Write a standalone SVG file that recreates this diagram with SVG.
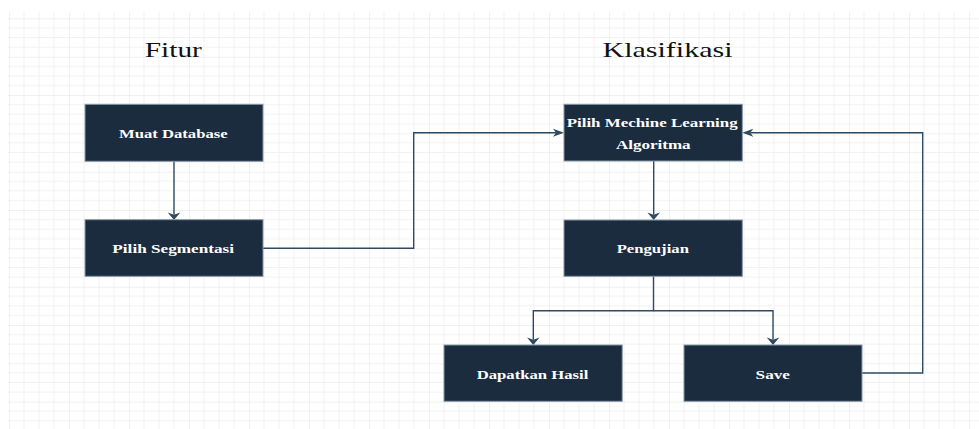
<svg xmlns="http://www.w3.org/2000/svg" width="979" height="429" viewBox="0 0 979 429">
  <style>
    .node rect { fill: #1b2c3e; stroke: #8797a6; stroke-width: 1; }
    .node text { fill: #ffffff; font-family: "Liberation Serif", "DejaVu Serif", serif; font-size: 12px; font-weight: bold; text-anchor: middle; }
    .title { fill: #111111; font-family: "Liberation Serif", "DejaVu Serif", serif; font-size: 21px; text-anchor: middle; }
    .edge { fill: none; stroke: #2f4b64; stroke-width: 1.4; }
  </style>
  <defs>
    <pattern id="grid" patternUnits="userSpaceOnUse" x="9" y="18.37" width="60" height="38.33">
      <g stroke="#f2f2f2" stroke-width="1">
        <line x1="15" y1="0" x2="15" y2="38.33"/>
        <line x1="30" y1="0" x2="30" y2="38.33"/>
        <line x1="45" y1="0" x2="45" y2="38.33"/>
        <line x1="0" y1="9.58" x2="60" y2="9.58"/>
        <line x1="0" y1="19.17" x2="60" y2="19.17"/>
        <line x1="0" y1="28.75" x2="60" y2="28.75"/>
      </g>
      <g stroke="#e2e2e2" stroke-width="1">
        <line x1="0" y1="0" x2="0" y2="38.33"/>
        <line x1="0" y1="0" x2="60" y2="0"/>
      </g>
    </pattern>
    <marker id="arrH" markerUnits="userSpaceOnUse" orient="auto" markerWidth="12" markerHeight="9" refX="3" refY="4" overflow="visible">
      <path d="M0,0 L11,4 L0,8 L3,4 Z" fill="#2f4b64"/>
    </marker>
    <marker id="arrV" markerUnits="userSpaceOnUse" orient="auto" markerWidth="9" markerHeight="13" refX="2.2" refY="6.3" overflow="visible">
      <path d="M0,0 L7.5,6.3 L0,12.6 L2.2,6.3 Z" fill="#2f4b64"/>
    </marker>
  </defs>

  <rect x="0" y="0" width="979" height="429" fill="#ffffff"/>
  <rect x="8" y="12" width="971" height="417" fill="url(#grid)"/>

  <text class="title" x="173.3" y="57.3" textLength="57" lengthAdjust="spacingAndGlyphs">Fitur</text>
  <text class="title" x="667.5" y="56.7" textLength="130" lengthAdjust="spacingAndGlyphs">Klasifikasi</text>

  <g id="connectors">
    <path class="edge" d="M174,161.3 V214.7" marker-end="url(#arrV)"/>
    <path class="edge" d="M263,248.3 H413.7 V132.7 H556" marker-end="url(#arrH)"/>
    <path class="edge" d="M653.7,161 V214.7" marker-end="url(#arrV)"/>
    <path class="edge" d="M653.5,276.3 V310.7 H533.3 V339.7" marker-end="url(#arrV)"/>
    <path class="edge" d="M653.5,310.7 H773 V339.7" marker-end="url(#arrV)"/>
    <path class="edge" d="M862,373 H922.7 V132.7 H750.3" marker-end="url(#arrH)"/>
  </g>

  <g id="node-muat-database" class="node">
    <rect x="85" y="104.3" width="178" height="57"/>
    <text x="173.3" y="137.7" textLength="108.7" lengthAdjust="spacingAndGlyphs">Muat Database</text>
  </g>
  <g id="node-pilih-segmentasi" class="node">
    <rect x="85" y="219.7" width="178" height="56.6"/>
    <text x="173.2" y="253.3" textLength="121.7" lengthAdjust="spacingAndGlyphs">Pilih Segmentasi</text>
  </g>
  <g id="node-pilih-algoritma" class="node">
    <rect x="564" y="104.3" width="178.3" height="56.7"/>
    <text x="652.2" y="126.7" textLength="171" lengthAdjust="spacingAndGlyphs">Pilih Mechine Learning</text>
    <text x="653.3" y="148.5" textLength="74.7" lengthAdjust="spacingAndGlyphs">Algoritma</text>
  </g>
  <g id="node-pengujian" class="node">
    <rect x="564" y="220" width="178.3" height="56.3"/>
    <text x="652.8" y="253.3" textLength="72.3" lengthAdjust="spacingAndGlyphs">Pengujian</text>
  </g>
  <g id="node-dapatkan-hasil" class="node">
    <rect x="444" y="345" width="178.2" height="56.3"/>
    <text x="532.5" y="378.7" textLength="111.7" lengthAdjust="spacingAndGlyphs">Dapatkan Hasil</text>
  </g>
  <g id="node-save" class="node">
    <rect x="684" y="345" width="178" height="56.3"/>
    <text x="772.8" y="378.7" textLength="34.4" lengthAdjust="spacingAndGlyphs">Save</text>
  </g>
</svg>
